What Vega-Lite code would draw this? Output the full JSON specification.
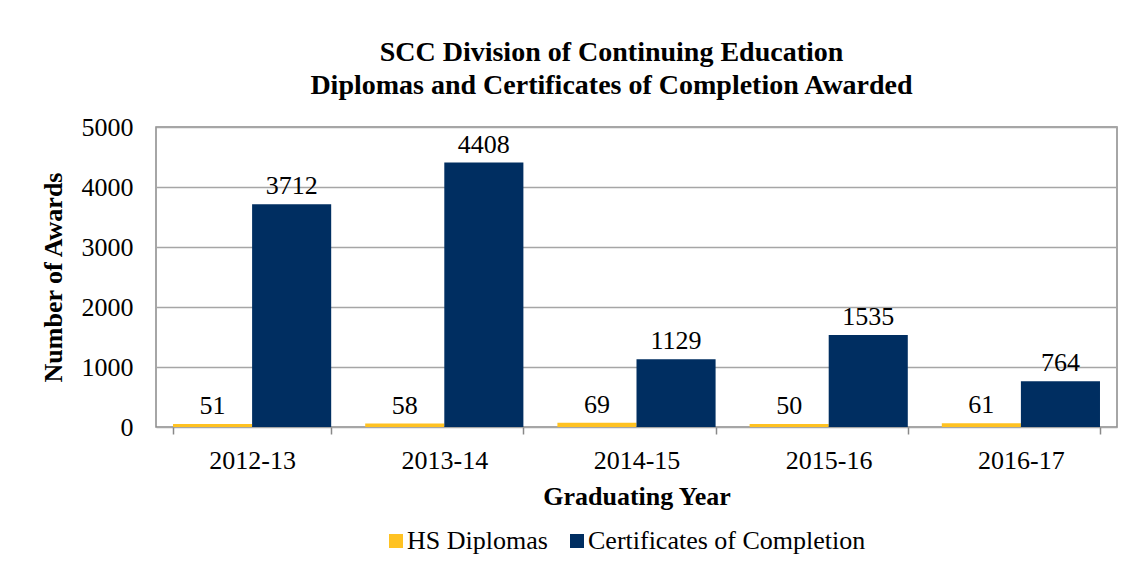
{
  "$schema": "https://vega.github.io/schema/vega-lite/v6.json",
  "width": 961,
  "height": 300,
  "autosize": {"type": "none"},
  "padding": {"left": 156, "top": 127, "right": 21, "bottom": 146},
  "background": "white",
  "config": {
    "font": "Liberation Serif, Times New Roman, serif",
    "view": {"stroke": "#898989", "strokeWidth": 1.5},
    "axis": {
      "labelFont": "Liberation Serif, Times New Roman, serif",
      "titleFont": "Liberation Serif, Times New Roman, serif",
      "labelColor": "black",
      "titleColor": "black",
      "labelFontSize": 26,
      "titleFontSize": 26,
      "titleFontWeight": "bold"
    },
    "legend": {
      "labelFont": "Liberation Serif, Times New Roman, serif",
      "labelFontSize": 26,
      "labelColor": "black",
      "labelLimit": 600
    }
  },
  "title": {
    "text": ["SCC Division of Continuing Education", "Diplomas and Certificates of Completion Awarded"],
    "font": "Liberation Serif, Times New Roman, serif",
    "fontSize": 28,
    "fontWeight": "bold",
    "color": "black",
    "anchor": "middle",
    "frame": "group",
    "dx": -25,
    "lineHeight": 33,
    "offset": 14
  },
  "data": {
    "values": [
      {"year": "2012-13", "series": "HS Diplomas", "value": 51},
      {"year": "2012-13", "series": "Certificates of Completion", "value": 3712},
      {"year": "2013-14", "series": "HS Diplomas", "value": 58},
      {"year": "2013-14", "series": "Certificates of Completion", "value": 4408},
      {"year": "2014-15", "series": "HS Diplomas", "value": 69},
      {"year": "2014-15", "series": "Certificates of Completion", "value": 1129},
      {"year": "2015-16", "series": "HS Diplomas", "value": 50},
      {"year": "2015-16", "series": "Certificates of Completion", "value": 1535},
      {"year": "2016-17", "series": "HS Diplomas", "value": 61},
      {"year": "2016-17", "series": "Certificates of Completion", "value": 764}
    ]
  },
  "encoding": {
    "x": {
      "field": "year",
      "type": "nominal",
      "sort": null,
      "scale": {"paddingInner": 0.177, "paddingOuter": 0.0885},
      "title": "Graduating Year",
      "axis": {
        "labelAngle": 0,
        "domain": false,
        "ticks": true,
        "tickBand": "extent",
        "tickSize": 7,
        "tickColor": "#898989",
        "tickWidth": 1.5,
        "labelPadding": 13,
        "titlePadding": 10,
        "grid": false
      }
    },
    "xOffset": {
      "field": "series",
      "type": "nominal",
      "sort": ["HS Diplomas", "Certificates of Completion"],
      "scale": {"paddingInner": 0, "paddingOuter": 0}
    },
    "y": {
      "field": "value",
      "type": "quantitative",
      "scale": {"domain": [0, 5000], "nice": false},
      "title": "Number of Awards",
      "axis": {
        "values": [0, 1000, 2000, 3000, 4000, 5000],
        "format": "d",
        "labelOverlap": false,
        "ticks": false,
        "tickSize": 0,
        "domain": false,
        "labelPadding": 23,
        "titlePadding": 15,
        "grid": true,
        "gridColor": "#a6a6a6",
        "gridWidth": 1.5
      }
    }
  },
  "layer": [
    {
      "mark": {"type": "bar"},
      "encoding": {
        "color": {
          "field": "series",
          "type": "nominal",
          "sort": ["HS Diplomas", "Certificates of Completion"],
          "scale": {"domain": ["HS Diplomas", "Certificates of Completion"], "range": ["#FFC222", "#002E61"]},
          "legend": {
            "title": null,
            "orient": "none",
            "legendX": 227,
            "legendY": 401,
            "direction": "horizontal",
            "symbolType": "square",
            "symbolSize": 196,
            "symbolStrokeWidth": 0,
            "labelOffset": -2,
            "columnPadding": 16
          }
        }
      }
    },
    {
      "mark": {"type": "text", "baseline": "alphabetic", "dy": -10, "fontSize": 26, "color": "black", "font": "Liberation Serif, Times New Roman, serif"},
      "encoding": {
        "text": {"field": "value", "type": "quantitative"}
      }
    }
  ]
}
